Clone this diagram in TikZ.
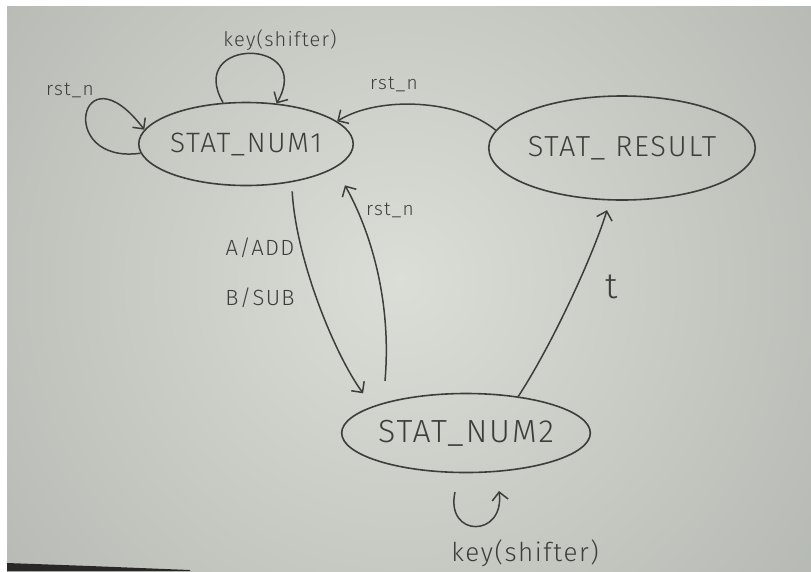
\documentclass[tikz,border=0pt]{standalone}
\usepackage{fontspec}
\setmainfont{Fira Sans}[UprightFont=* Light, LetterSpace=6]
\usetikzlibrary{arrows.meta,shapes.geometric}
\definecolor{pencil}{RGB}{60,62,60}
\definecolor{paperlight}{RGB}{218,222,214}
\definecolor{paperdark}{RGB}{150,154,149}
\definecolor{tabledark}{RGB}{42,40,38}

\begin{document}
\begin{tikzpicture}[x=1pt, y=-1pt, >={Straight Barb[length=8pt,width=16pt]},
    state/.style={draw=pencil, line width=1.6pt, ellipse, inner sep=0pt,
                  text=pencil, font=\fontsize{#1}{#1}\selectfont},
    lbl/.style={text=pencil, font=\fontsize{#1}{#1}\selectfont},
    arr/.style={->, line width=1.5pt, pencil}]

  %% paper
  \useasboundingbox (0,0) rectangle (811,571);
  \fill[white] (0,0) rectangle (811,571);
  \begin{scope}
    \clip (7,6) rectangle (811,571);
    \shade[inner color=paperlight, outer color=paperdark] (400,280) circle (960);
  \end{scope}
  \fill[tabledark] (7,563) -- (90,566) -- (190,570) -- (190,571) -- (7,571) -- cycle;

  %% states
  \node[state=28, minimum width=197pt, minimum height=83pt] (num1) at (246,144) {STAT\_NUM1};
  \node[state=29, minimum width=256pt, minimum height=104pt] (res) at (622,148) {STAT\_ RESULT};
  \node[state=32, minimum width=208pt, minimum height=79pt] (num2) at (466,433) {STAT\_NUM2};

  %% transitions
  \draw[arr] (num1.185) .. controls (55,165) and (80,45) .. (num1.172);
  \draw[arr] (num1.119) .. controls (185,37) and (315,37) .. (num1.53);
  \draw[arr] (res.172) .. controls (460,100) and (380,95) .. (num1.14);
  \draw[arr, shorten <=9pt, shorten >=16pt]
    (num1.-40) .. controls (296,260) and (335,355) .. (num2.164);
  \draw[arr, shorten <=22pt, shorten >=20pt]
    (num2.160) .. controls (392,300) and (370,230) .. (num1.-15);
  \draw[arr, shorten >=10pt] (num2.35) .. controls (555,340) and (595,250) .. (res.-103);
  \coordinate (kl) at (455,492);
  \coordinate (kr) at (499,491);
  \draw[arr] (kl) .. controls (445,538) and (505,538) .. (kr);

  %% labels
  \node[lbl=19] (lrst1) at (70,90) {rst\_n};
  \node[lbl=20] (lkey1) at (280,40) {key(shifter)};
  \node[lbl=19] (lrst2) at (394,84) {rst\_n};
  \node[lbl=22] (ladd) at (260,248) {A/ADD};
  \node[lbl=22] (lsub) at (260,298) {B/SUB};
  \node[lbl=19] (lrst3) at (390,210) {rst\_n};
  \node[lbl=36] (lt) at (612,287) {t};
  \node[lbl=26] (lkey2) at (525,553) {key(shifter)};
\end{tikzpicture}
\end{document}
